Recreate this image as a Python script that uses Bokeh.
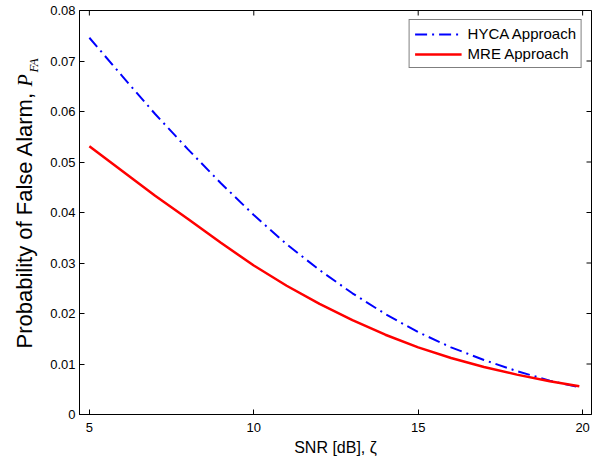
from math import pi
from bokeh.plotting import figure
from bokeh.layouts import row
from bokeh.models import Range1d, FixedTicker, Label, Legend, LegendItem
from bokeh.embed import file_html
from bokeh.resources import INLINE

# ---- data ----
snr = [5, 6, 7, 8, 9, 10, 11, 12, 13, 14, 15, 16, 17, 18, 19, 19.9]
hyca = [0.0746, 0.0670, 0.0595, 0.0525, 0.0458, 0.0395, 0.0337, 0.0286, 0.0240,
        0.0199, 0.0163, 0.0133, 0.0108, 0.0086, 0.0067, 0.0054]
mre = [0.0531, 0.0482, 0.0433, 0.0387, 0.0340, 0.0295, 0.0255, 0.0219, 0.0187,
       0.0158, 0.0133, 0.0112, 0.0094, 0.0079, 0.0066, 0.0056]
x_ticks = [5, 10, 15, 20]
x_tick_labels = ["5", "10", "15", "20"]
y_ticks = [0, 0.01, 0.02, 0.03, 0.04, 0.05, 0.06, 0.07, 0.08]
y_tick_labels = ["0", "0.01", "0.02", "0.03", "0.04", "0.05", "0.06", "0.07", "0.08"]
series_names = ["HYCA Approach", "MRE Approach"]
x_label = "SNR [dB], \u03b6"
y_label_text = "Probability of False Alarm,"
y_label_sym = "P"
y_label_sub = "FA"
x_lim = (4.7, 20.27)
y_lim = (0, 0.08)

FONT = "Liberation Sans"
W, H = 594, 462
LAB_W = 44
BORDER_TOP, BORDER_BOTTOM = 10, 48
FRAME_BOTTOM = H - BORDER_BOTTOM  # canvas y of the frame's bottom edge


def fy(canvas_y):
    """Frame-relative screen y (from the frame bottom) for a canvas y."""
    return FRAME_BOTTOM - canvas_y


# ---- narrow strip holding the rotated y-axis title (frames align in a row) ----
lab = figure(width=LAB_W, height=H, output_backend="svg", toolbar_location=None,
             x_range=Range1d(0, 1), y_range=Range1d(0, 1),
             x_axis_location=None, y_axis_location=None,
             min_border=0, min_border_left=0, min_border_right=0,
             min_border_top=BORDER_TOP, min_border_bottom=BORDER_BOTTOM)
lab.outline_line_color = None
lab.background_fill_color = "white"
lab.border_fill_color = "white"
lab.grid.visible = False
lab.add_layout(Label(x=24, y=fy(348), x_units="screen", y_units="screen",
                     text=y_label_text, angle=pi / 2, text_align="left",
                     text_baseline="alphabetic", text_font=FONT,
                     text_font_size="22px", text_color="black"))
lab.add_layout(Label(x=24, y=fy(86), x_units="screen", y_units="screen",
                     text=y_label_sym, angle=pi / 2, text_align="left",
                     text_baseline="alphabetic", text_font="Liberation Serif",
                     text_font_style="italic", text_font_size="20px",
                     text_color="black"))
lab.add_layout(Label(x=33, y=fy(72), x_units="screen", y_units="screen",
                     text=y_label_sub, angle=pi / 2, text_align="left",
                     text_baseline="alphabetic", text_font="Liberation Serif",
                     text_font_style="italic", text_font_size="13px",
                     text_color="black"))

# ---- main chart ----
p = figure(width=W - LAB_W, height=H, output_backend="svg", toolbar_location=None,
           x_range=Range1d(*x_lim), y_range=Range1d(*y_lim),
           min_border_left=79 - LAB_W, min_border_right=3,
           min_border_top=BORDER_TOP, min_border_bottom=BORDER_BOTTOM)
p.background_fill_color = "white"
p.border_fill_color = "white"
p.grid.visible = False
p.outline_line_color = "black"
p.outline_line_width = 1

r1 = p.line(snr, hyca, line_color="#0000ff", line_width=2, line_dash="12 5 2 5")
r2 = p.line(snr, mre, line_color="#ff0000", line_width=2.5)

# inward ticks on the top and right edges of the box (clipped to the frame)
p.scatter(x_ticks, [y_lim[1]] * len(x_ticks), marker="dash", angle=pi / 2,
          size=10, line_color="black", line_width=1)
p.scatter([x_lim[1]] * len(y_ticks), y_ticks, marker="dash",
          size=10, line_color="black", line_width=1)


def style_axis(ax, ticks, labels):
    ax.ticker = FixedTicker(ticks=ticks)
    ax.major_tick_in = 5
    ax.major_tick_out = 0
    ax.minor_tick_in = 0
    ax.minor_tick_out = 0
    ax.axis_line_color = "black"
    ax.major_tick_line_color = "black"
    ax.major_label_overrides = {t: l for t, l in zip(ticks, labels)}
    ax.major_label_text_font = FONT
    ax.major_label_text_font_size = "13px"
    ax.major_label_text_color = "black"


xa = p.below[0]
ya = p.left[0]
style_axis(xa, x_ticks, x_tick_labels)
style_axis(ya, y_ticks, y_tick_labels)
xa.major_label_standoff = 8
ya.major_label_standoff = 4
xa.axis_label = x_label
xa.axis_label_text_font = FONT
xa.axis_label_text_font_style = "normal"
xa.axis_label_text_font_size = "16px"
xa.axis_label_standoff = 4
xa.axis_label_text_color = "black"

legend = Legend(items=[LegendItem(label=series_names[0], renderers=[r1]),
                       LegendItem(label=series_names[1], renderers=[r2])],
                location="top_right")
legend.margin = 9
legend.padding = 5
legend.spacing = 3
legend.label_height = 16
legend.glyph_height = 16
legend.glyph_width = 47
legend.label_standoff = 6
legend.label_text_font = FONT
legend.label_text_font_size = "15px"
legend.label_text_color = "black"
legend.border_line_color = "black"
legend.border_line_width = 1
legend.background_fill_color = "white"
legend.background_fill_alpha = 1
p.add_layout(legend)

page = row(lab, p, spacing=0)
open("out.html", "w").write(file_html(page, INLINE))
